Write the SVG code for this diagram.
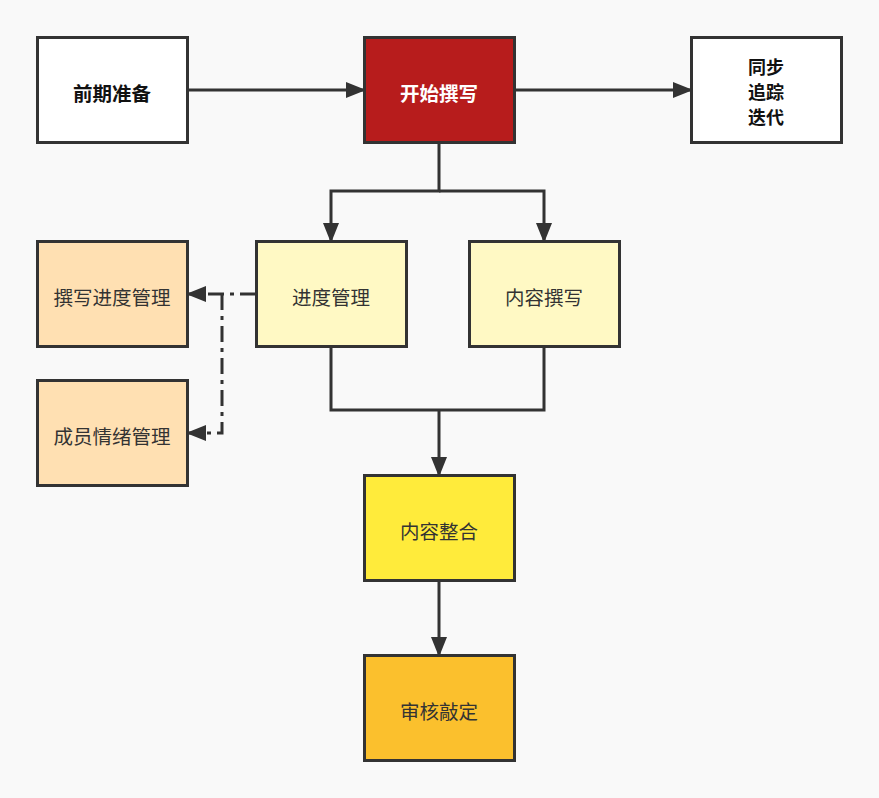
<svg xmlns="http://www.w3.org/2000/svg" width="879" height="798" viewBox="0 0 879 798">
<style>
.box{stroke:#333;stroke-width:3}
.t{font-family:"Noto Sans CJK SC","Microsoft YaHei",sans-serif;font-size:19.5px;fill:#333;text-anchor:middle;dominant-baseline:central}
.b{font-weight:bold;fill:#111}
.s{font-size:18px}
.c{fill:none;stroke:#333;stroke-width:3}
.d{stroke-dasharray:16 6 4 6}
</style>
<defs>
<marker id="ah" markerWidth="20" markerHeight="16" refX="18" refY="8" orient="auto" markerUnits="userSpaceOnUse">
<path d="M0,0 L20,8 L0,16 Z" fill="#333"/>
</marker>
</defs>
<rect width="879" height="798" fill="#f9f9f9"/>
<g id="connectors">
<path class="c" d="M187,90 H364" marker-end="url(#ah)"/>
<path class="c" d="M514,90 H691" marker-end="url(#ah)"/>
<path class="c" d="M439,142 V191 H331 V241" marker-end="url(#ah)"/>
<path class="c" d="M439,191 H544 V241" marker-end="url(#ah)"/>
<path class="c" d="M331,346 V410 H544 V346"/>
<path class="c" d="M439,410 V475" marker-end="url(#ah)"/>
<path class="c" d="M439,580 V655" marker-end="url(#ah)"/>
<path class="c d" d="M256,294 H188" marker-end="url(#ah)"/>
<path class="c d" d="M222,294 V433 H188" marker-end="url(#ah)"/>
</g>
<g id="n1"><rect class="box" x="37.5" y="37.5" width="150" height="105" fill="#fff"/><text class="t b" x="112" y="92">前期准备</text></g>
<g id="n2"><rect class="box" x="364.5" y="37.5" width="150" height="105" fill="#b71c1c"/><text class="t b" x="439" y="92" style="fill:#fff">开始撰写</text></g>
<g id="n3"><rect class="box" x="691.5" y="37.5" width="150" height="105" fill="#fff"/><text class="t b s" x="766" y="66">同步</text><text class="t b s" x="766" y="91">追踪</text><text class="t b s" x="766" y="116">迭代</text></g>
<g id="n4"><rect class="box" x="37.5" y="241.5" width="150" height="105" fill="#ffe0b2"/><text class="t" x="112" y="296">撰写进度管理</text></g>
<g id="n5"><rect class="box" x="256.5" y="241.5" width="150" height="105" fill="#fff9c4"/><text class="t" x="331" y="296">进度管理</text></g>
<g id="n6"><rect class="box" x="469.5" y="241.5" width="150" height="105" fill="#fff9c4"/><text class="t" x="544" y="296">内容撰写</text></g>
<g id="n7"><rect class="box" x="37.5" y="380.5" width="150" height="105" fill="#ffe0b2"/><text class="t" x="112" y="435">成员情绪管理</text></g>
<g id="n8"><rect class="box" x="364.5" y="475.5" width="150" height="105" fill="#ffeb3b"/><text class="t" x="439" y="530">内容整合</text></g>
<g id="n9"><rect class="box" x="364.5" y="655.5" width="150" height="105" fill="#fbc02d"/><text class="t" x="439" y="710">审核敲定</text></g>
</svg>
